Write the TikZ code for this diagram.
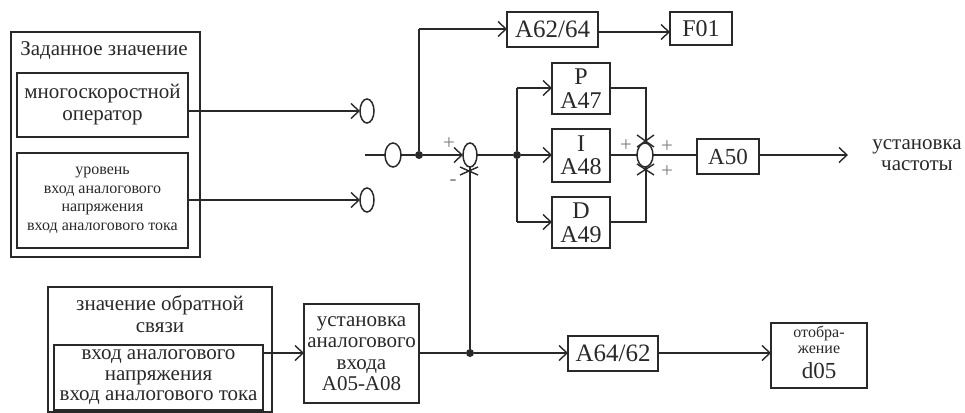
\documentclass[tikz,border=0pt]{standalone}
\usepackage{fontspec}
\setmainfont{Liberation Serif}
\usetikzlibrary{arrows.meta,shapes.geometric}
\definecolor{ink}{gray}{0.16}
\tikzset{
  x=1pt,y=-1pt,
  every node/.style={text=ink,inner sep=0pt,outer sep=0pt,align=center},
  wire/.style={draw=ink,line width=1.5pt},
  arrowed/.style={wire,-{Straight Barb[length=8pt,width=15pt,line width=1.4pt]}},
  box/.style={draw=ink,line width=1.7pt,fill=white,minimum width=#1,anchor=north west},
  ring/.style={draw=ink,line width=1.5pt,shape=ellipse,fill=white,minimum width=14pt,minimum height=24pt},
  dotnode/.style={circle,fill=ink,minimum size=8pt},
  crossmark/.style={draw=ink,line width=1.4pt},
  sign/.style={font=\fontsize{21}{21}\selectfont,text=ink!60},
}
\begin{document}
\begin{tikzpicture}
\useasboundingbox (0,0) rectangle (965,412);
\fill[white] (0,0) rectangle (965,412);
% containers
\node[box=189pt,minimum height=225pt] (setp) at (11,32) {};
\node[font=\fontsize{21}{21}\selectfont] (setpt) at (104,51) {Заданное значение};
\node[box=171pt,minimum height=64pt,font=\fontsize{21}{22}\selectfont] (ms) at (17,73) {многоскоростной\\оператор};
\node[box=171pt,minimum height=95pt,font=\fontsize{16}{18.5}\selectfont] (lvl) at (17,153) {уровень\\вход аналогового\\напряжения\\вход аналогового тока};
\node[box=224pt,minimum height=125pt] (fb) at (48,287) {};
\node[font=\fontsize{21}{22}\selectfont] (fbt) at (160,314) {значение обратной\\связи};
\node[box=209pt,minimum height=65pt,font=\fontsize{21}{20.5}\selectfont] (fbin) at (54,345) {вход аналогового\\напряжения\\вход аналогового тока};
\node[box=115pt,minimum height=99pt,font=\fontsize{21}{21.5}\selectfont] (aset) at (304,304) {установка\\аналогового\\входа\\A05-A08};
% function boxes
\node[box=91pt,minimum height=35pt,font=\fontsize{25}{25}\selectfont] (a62) at (507,12) {A62/64};
\node[box=62pt,minimum height=33pt,font=\fontsize{24}{24}\selectfont] (f01) at (670,12) {F01};
\node[box=58pt,minimum height=51pt,font=\fontsize{24}{24}\selectfont] (p) at (552,63) {P\\A47};
\node[box=58pt,minimum height=53pt,font=\fontsize{24}{23.5}\selectfont] (i) at (552,129) {I\\A48};
\node[box=58pt,minimum height=51pt,font=\fontsize{24}{24}\selectfont] (d) at (552,197) {D\\A49};
\node[box=62pt,minimum height=35pt,font=\fontsize{23}{23}\selectfont] (a50) at (697,139) {A50};
\node[box=90pt,minimum height=35pt,font=\fontsize{25}{25}\selectfont] (a64) at (568,336) {A64/62};
\node[box=96pt,minimum height=65pt] (d05) at (771,323) {};
\node[font=\fontsize{16}{16}\selectfont,anchor=north] (d05a) at (819,326) {отобра-\\жение};
\node[font=\fontsize{23}{23}\selectfont,anchor=base] (d05b) at (819,378) {d05};
% rings
\node[ring] (r1) at (367,111) {};
\node[ring] (r2) at (367,200) {};
\node[ring,minimum width=16pt] (r3) at (393,155) {};
\node[ring] (sum) at (470,155) {};
\node[ring,minimum width=16pt] (add) at (645,155) {};
\node[dotnode] (j1) at (419,155) {};
\node[dotnode] (j2) at (517,155) {};
\node[dotnode] (j3) at (470,353) {};
\coordinate (in) at (365,155);
\coordinate (out) at (848,155);
\coordinate (c1) at (419,29);
\coordinate (c2) at (517,88);
\coordinate (c3) at (517,222);
\coordinate (c4) at (646,88);
\coordinate (c5) at (646,222);
\coordinate (f0) at (598,32);
\coordinate (fbj) at (263,353);
% connectors
\draw[arrowed] (ms.east |- r1) -- (r1.west);
\draw[arrowed] (lvl.east |- r2) -- (r2.west);
\draw[wire] (in) -- (r3.west);
\draw[wire] (r3.east) -- (j1);
\draw[arrowed] (j1) -- (sum.west);
\draw[wire] (sum.east) -- (j2);
\draw[wire] (j1) -- (c1);
\draw[arrowed] (c1) -- (a62.west |- c1);
\draw[arrowed] (f0) -- (f01.west |- f0);
\draw[wire] (j2) -- (c2);
\draw[wire] (j2) -- (c3);
\draw[arrowed] (c2) -- (p.west |- c2);
\draw[arrowed] (j2) -- (i.west |- j2);
\draw[arrowed] (c3) -- (d.west |- c3);
\draw[wire] (p.east |- c4) -- (c4) -- (add.north -| c4);
\draw[wire] (d.east |- c5) -- (c5) -- (add.south -| c5);
\draw[wire] (i.east |- add) -- (add.west);
\draw[wire] (add.east) -- (a50.west |- add);
\draw[arrowed] (a50.east |- out) -- (out);
\draw[arrowed] (fbj) -- (aset.west |- fbj);
\draw[wire] (aset.east |- j3) -- (j3);
\draw[wire] (j3) -- (sum.south);
\draw[arrowed] (j3) -- (a64.west |- j3);
\draw[arrowed] (a64.east |- j3) -- (d05.west |- j3);
% crossed tips on the summing points
\draw[crossmark] (637,135) -- (654,147) (654,135) -- (637,147);
\draw[crossmark] (637,164) -- (654,175) (654,164) -- (637,175);
\draw[crossmark] (460,167) -- (478,175) (478,167) -- (460,175);
% labels
\node[sign] (s1) at (449,144) {+};
\node[sign] (s2) at (453,183) {-};
\node[sign] (s3) at (626,146) {+};
\node[sign] (s4) at (667,147) {+};
\node[sign] (s5) at (667,172) {+};
\node[font=\fontsize{21}{21}\selectfont] (lab) at (917,155) {установка\\частоты};
\end{tikzpicture}
\end{document}
